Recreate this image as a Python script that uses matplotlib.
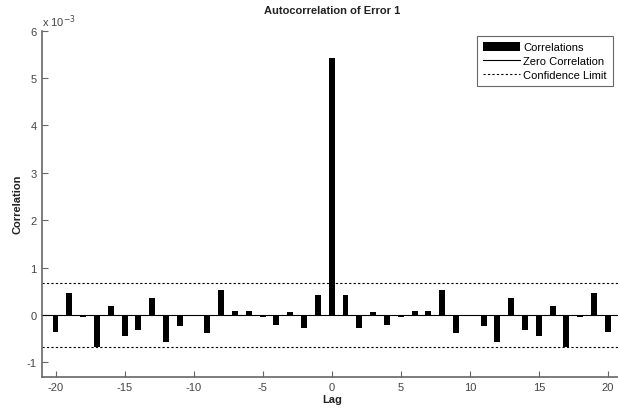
"""Autocorrelation of Error 1, MATLAB-style bar plot."""

import matplotlib

matplotlib.use("Agg")
import matplotlib.pyplot as plt  # noqa: E402

plt.rcParams["font.family"] = ["Liberation Sans", "DejaVu Sans"]
plt.rcParams["axes.unicode_minus"] = False

# lags and correlation values (in units of 1e-3)
lags = list(range(-20, 21))
right_side = [5.43, 0.42, -0.28, 0.07, -0.20, -0.03, 0.08, 0.09, 0.53, -0.37, 0.0,
              -0.23, -0.56, 0.35, -0.32, -0.44, 0.19, -0.67, -0.04, 0.46, -0.35]
corr = right_side[:0:-1] + right_side
conf_limit = 0.68

W, H = 618, 410
fig = plt.figure(figsize=(W / 100, H / 100), dpi=100)
# axes in pixel terms: left spine 41.7, top 31.7, bottom 377.7, runs off the right edge
ax = fig.add_axes([41.7 / W, (H - 377.7) / H, 580 / W, (377.7 - 31.7) / H])

bars = ax.bar(lags, corr, width=0.43, color="black", label="Correlations", zorder=3)
zero = ax.axhline(0, color="black", lw=0.8, label="Zero Correlation", zorder=2)
conf = ax.axhline(conf_limit, color="black", lw=0.8, ls=(0, (2, 2)),
                  label="Confidence Limit")
ax.axhline(-conf_limit, color="black", lw=0.8, ls=(0, (2, 2)))

ax.set_xlim(-21, 21)
ax.set_ylim(-1.3, 6)
ax.set_xticks(range(-20, 21, 5))
ax.set_yticks(range(-1, 7))

for s in ("top", "right"):
    ax.spines[s].set_visible(False)
for s in ("left", "bottom"):
    ax.spines[s].set_color("#666666")
    ax.spines[s].set_linewidth(1.2)
ax.tick_params(direction="in", length=4.5, colors="#666666", labelsize=8,
               labelcolor="#444444")

ax.text(0.0, 1.004, r"x 10$^{-3}$", transform=ax.transAxes, fontsize=8,
        color="#444444", ha="left", va="bottom")
ax.set_title("Autocorrelation of Error 1", fontsize=8, fontweight="bold", pad=12.5,
             color="#222222")
ax.set_xlabel("Lag", fontsize=8, fontweight="bold", labelpad=2, color="#222222")
ax.set_ylabel("Correlation", fontsize=8, fontweight="bold", labelpad=3,
              color="#222222")

leg = ax.legend(handles=[bars, zero, conf], loc="upper right",
                bbox_to_anchor=(613 / W, (H - 36.7) / H),
                bbox_transform=fig.transFigure, fontsize=8, frameon=True,
                fancybox=False, borderpad=0.55, borderaxespad=0,
                handlelength=3.3, handleheight=0.95, labelspacing=0.3,
                handletextpad=0.35)
leg.get_frame().set_edgecolor("#444444")
leg.get_frame().set_linewidth(0.8)

fig.savefig("out.png", dpi=100)
